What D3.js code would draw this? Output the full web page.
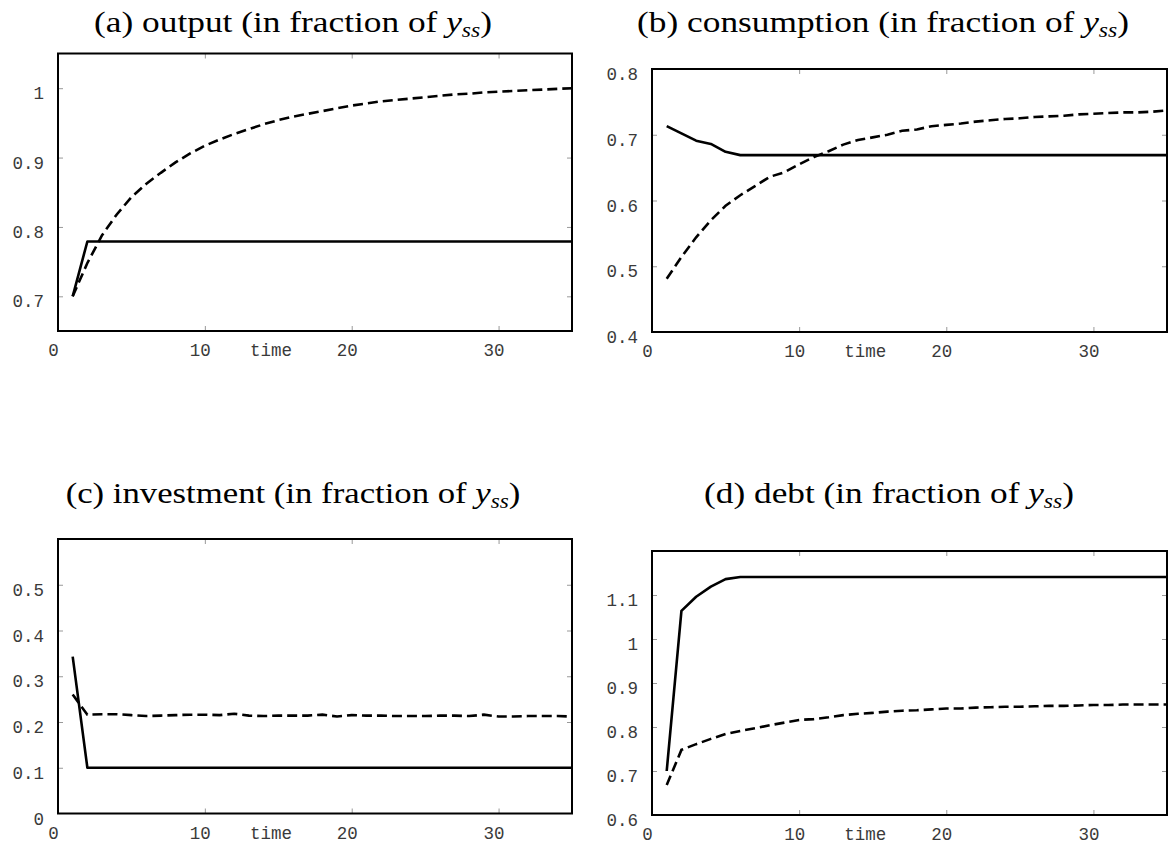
<!DOCTYPE html>
<html><head><meta charset="utf-8">
<script src="https://cdn.jsdelivr.net/npm/d3@7"></script>
<style>body{margin:0;background:#fff}</style>
</head><body>
<svg id="chart" width="1169" height="846"></svg>
<script>
const time = [1,2,3,4,5,6,7,8,9,10,11,12,13,14,15,16,17,18,19,20,21,22,23,24,25,26,27,28,29,30,31,32,33,34,35];
const xTickLabels = [0,10,20,30];
const titles = ["(a) output", "(b) consumption", "(c) investment", "(d) debt"];

const outputTicks = [0.7,0.8,0.9,1];
const outputSolid = [0.700,0.779,0.779,0.779,0.779,0.779,0.779,0.779,0.779,0.779,0.779,0.779,0.779,0.779,0.779,0.779,0.779,0.779,0.779,0.779,0.779,0.779,0.779,0.779,0.779,0.779,0.779,0.779,0.779,0.779,0.779,0.779,0.779,0.779,0.779];
const outputDashed = [0.700,0.748,0.788,0.818,0.843,0.862,0.878,0.893,0.906,0.917,0.926,0.934,0.941,0.948,0.954,0.959,0.963,0.967,0.971,0.975,0.978,0.981,0.983,0.985,0.987,0.989,0.991,0.992,0.994,0.995,0.996,0.997,0.998,0.999,1.000];

const consumptionTicks = [0.4,0.5,0.6,0.7,0.8];
const consumptionSolid = [0.713,0.702,0.691,0.686,0.674,0.669,0.669,0.669,0.669,0.669,0.669,0.669,0.669,0.669,0.669,0.669,0.669,0.669,0.669,0.669,0.669,0.669,0.669,0.669,0.669,0.669,0.669,0.669,0.669,0.669,0.669,0.669,0.669,0.669,0.669];
const consumptionDashed = [0.481,0.514,0.544,0.570,0.592,0.608,0.622,0.636,0.643,0.655,0.666,0.675,0.685,0.692,0.696,0.700,0.706,0.708,0.713,0.715,0.717,0.720,0.722,0.724,0.725,0.727,0.728,0.729,0.731,0.732,0.733,0.734,0.734,0.735,0.737];

const investmentTicks = [0,0.1,0.2,0.3,0.4,0.5];
const investmentSolid = [0.343,0.100,0.100,0.100,0.100,0.100,0.100,0.100,0.100,0.100,0.100,0.100,0.100,0.100,0.100,0.100,0.100,0.100,0.100,0.100,0.100,0.100,0.100,0.100,0.100,0.100,0.100,0.100,0.100,0.100,0.100,0.100,0.100,0.100,0.100];
const investmentDashed = [0.260,0.216,0.217,0.217,0.215,0.213,0.214,0.215,0.216,0.216,0.215,0.218,0.214,0.213,0.214,0.214,0.214,0.216,0.212,0.215,0.214,0.214,0.213,0.213,0.213,0.214,0.214,0.213,0.216,0.212,0.212,0.213,0.213,0.213,0.212];

const debtTicks = [0.6,0.7,0.8,0.9,1,1.1];
const debtSolid = [0.700,1.064,1.096,1.119,1.136,1.141,1.141,1.141,1.141,1.141,1.141,1.141,1.141,1.141,1.141,1.141,1.141,1.141,1.141,1.141,1.141,1.141,1.141,1.141,1.141,1.141,1.141,1.141,1.141,1.141,1.141,1.141,1.141,1.141,1.141];
const debtDashed = [0.668,0.748,0.761,0.773,0.784,0.791,0.797,0.804,0.810,0.816,0.818,0.822,0.827,0.830,0.832,0.835,0.837,0.838,0.840,0.842,0.842,0.844,0.845,0.846,0.846,0.847,0.848,0.848,0.849,0.850,0.850,0.851,0.851,0.851,0.851];

const panels = [
  {title: titles[0], solid: outputSolid, dashed: outputDashed, ticks: outputTicks, yDomain: [0.65, 1.05],
   box: {l: 58, r: 572, t: 53.5, b: 331}, tcx: 293, tbase: 32, tw: 398},
  {title: titles[1], solid: consumptionSolid, dashed: consumptionDashed, ticks: consumptionTicks, yDomain: [0.4, 0.8],
   box: {l: 652, r: 1167, t: 69, b: 332}, tcx: 883, tbase: 32, tw: 492},
  {title: titles[2], solid: investmentSolid, dashed: investmentDashed, ticks: investmentTicks, yDomain: [0, 0.6],
   box: {l: 58, r: 572, t: 539, b: 813.5}, tcx: 293, tbase: 503, tw: 455},
  {title: titles[3], solid: debtSolid, dashed: debtDashed, ticks: debtTicks, yDomain: [0.6, 1.2],
   box: {l: 652, r: 1167, t: 551, b: 815}, tcx: 889, tbase: 503, tw: 370}
];

const svg = d3.select("#chart");
svg.append("rect").attr("width", 1169).attr("height", 846).attr("fill", "#fff");

const monoFont = "'Liberation Mono', 'Courier New', monospace";
const serifFont = "'Liberation Serif', 'Times New Roman', serif";
const labelFill = "#3a3a3a";

panels.forEach((p, i) => {
  const {l, r, t, b} = p.box;
  const x = d3.scaleLinear().domain([0, 35]).range([l, r]);
  const y = d3.scaleLinear().domain(p.yDomain).range([b, t]);
  const g = svg.append("g");

  const cid = "clip" + i;
  svg.append("clipPath").attr("id", cid).append("rect")
    .attr("x", l).attr("y", t).attr("width", r - l).attr("height", b - t);

  const inner = p.ticks.filter(v => v > p.yDomain[0] + 1e-9 && v < p.yDomain[1] - 1e-9);
  const innerX = xTickLabels.filter(v => v > 0 && v < 35);

  const left = g.append("g").attr("transform", `translate(${l},0)`)
    .call(d3.axisLeft(y).tickValues(p.ticks).tickFormat(v => String(v)).tickSizeInner(-5).tickSizeOuter(0).tickPadding(14));
  const right = g.append("g").attr("transform", `translate(${r},0)`)
    .call(d3.axisRight(y).tickValues(inner).tickFormat("").tickSizeInner(-5).tickSizeOuter(0));
  const bottom = g.append("g").attr("transform", `translate(0,${b})`)
    .call(d3.axisBottom(x).tickValues(xTickLabels).tickFormat(v => String(v)).tickSizeInner(-5).tickSizeOuter(0).tickPadding(0));
  const top = g.append("g").attr("transform", `translate(0,${t})`)
    .call(d3.axisTop(x).tickValues(innerX).tickFormat("").tickSizeInner(-5).tickSizeOuter(0));

  [left, right, bottom, top].forEach(a => {
    a.select(".domain").remove();
    a.selectAll(".tick line").attr("stroke", "#999").attr("stroke-width", 1);
    a.attr("font-family", monoFont).attr("font-size", 17.5);
  });
  left.selectAll(".tick").filter(v => !inner.includes(v)).select("line").remove();
  bottom.selectAll(".tick").filter(v => !innerX.includes(v)).select("line").remove();
  left.selectAll(".tick text").attr("fill", labelFill).attr("dy", "0.6em");
  bottom.selectAll(".tick text").attr("fill", labelFill).attr("x", -5).attr("y", 19).attr("dy", "0.35em");

  g.append("text").attr("x", x(14.5)).attr("y", b + 19).attr("dy", "0.35em")
    .attr("text-anchor", "middle").attr("font-family", monoFont).attr("font-size", 17.5)
    .attr("fill", labelFill).text("time");

  const line = vals => d3.line().x((d, k) => x(time[k])).y(d => y(d))(vals);
  const lg = g.append("g").attr("clip-path", `url(#${cid})`);
  lg.append("path").attr("d", line(p.dashed)).attr("fill", "none").attr("stroke", "#000")
    .attr("stroke-width", 2.6).attr("stroke-dasharray", "10,5");
  lg.append("path").attr("d", line(p.solid)).attr("fill", "none").attr("stroke", "#000")
    .attr("stroke-width", 2.6).attr("stroke-linejoin", "round");

  g.append("rect").attr("x", l).attr("y", t).attr("width", r - l).attr("height", b - t)
    .attr("fill", "none").attr("stroke", "#000").attr("stroke-width", 2);

  const tt = g.append("text").attr("font-family", serifFont).attr("font-size", 30)
    .attr("fill", "#000").attr("text-anchor", "middle");
  tt.append("tspan").text(p.title + " (in fraction of ");
  tt.append("tspan").attr("font-style", "italic").text("y");
  tt.append("tspan").attr("font-style", "italic").attr("font-size", 20).attr("dy", 5).text("ss");
  tt.append("tspan").attr("dy", -5).text(")");
  const w = tt.node().getBBox().width;
  const s = p.tw / w;
  tt.attr("transform", `translate(${p.tcx},${p.tbase}) scale(${s},1)`);
});
</script>
</body></html>
